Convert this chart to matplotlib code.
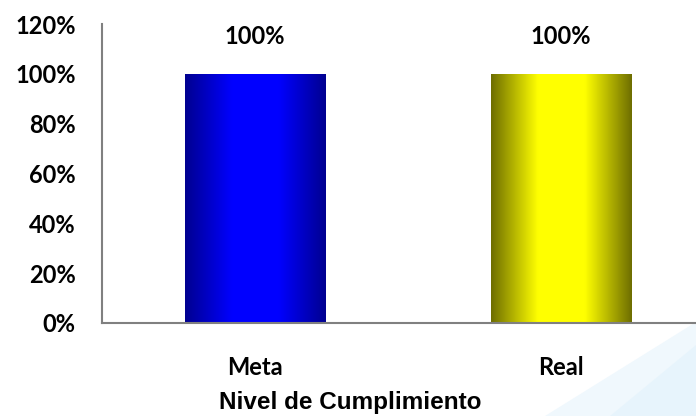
import numpy as np
import matplotlib.pyplot as plt
from matplotlib.patches import Polygon
from matplotlib.colors import LinearSegmentedColormap

categorias = ['Meta', 'Real']
valores = [100, 100]
etiquetas = ['100%', '100%']
yticks = [0, 20, 40, 60, 80, 100, 120]

fig = plt.figure(figsize=(6.96, 4.16), dpi=100)

# fondo: franja azul clara abajo a la derecha
bg = fig.add_axes([0, 0, 1, 1], zorder=0)
bg.set_xlim(0, 696)
bg.set_ylim(416, 0)
bg.axis('off')
bg.add_patch(Polygon([[545, 416], [696, 322], [696, 416]], closed=True,
                     facecolor='#f0f8fd', edgecolor='none'))
bg.add_patch(Polygon([[610, 416], [696, 345], [696, 416]], closed=True,
                     facecolor='#e4f3fc', edgecolor='none', alpha=0.7))

ax = fig.add_axes([102/696, (416-323)/416, 612/696, 299/416], zorder=1)
ax.patch.set_alpha(0)

# colores con degradado
cmaps = [
    LinearSegmentedColormap.from_list('azul', ['#000090', '#0000ff', '#0000ff', '#000090']),
    LinearSegmentedColormap.from_list('amarillo', ['#6e6e00', '#ffff00', '#ffff00', '#6e6e00']),
]

ancho = 0.46
x = np.arange(len(categorias))
bars = ax.bar(x, valores, width=ancho, color='none', edgecolor='none', zorder=2)
grad = np.linspace(0, 1, 256).reshape(1, -1)
for b, cm in zip(bars, cmaps):
    x0, y0 = b.get_x(), b.get_y()
    w, h = b.get_width(), b.get_height()
    im = ax.imshow(grad, cmap=cm, aspect='auto', extent=[x0, x0 + w, y0, y0 + h], zorder=2)
    im.set_clip_path(b)

fuente = dict(fontsize=17, fontweight='bold', family='Lato')

for xi, v, t in zip(x, valores, etiquetas):
    ax.text(xi, 115, t, ha='center', va='center', **fuente)

ax.set_xlim(-0.5, 1.5)
ax.set_ylim(0, 120)
ax.set_yticks(yticks)
ax.set_yticklabels([f'{t}%' for t in yticks], **fuente)
ax.set_xticks(x)
ax.set_xticklabels(categorias, **fuente)
ax.tick_params(axis='both', length=0)
ax.tick_params(axis='y', pad=19)
ax.tick_params(axis='x', pad=24)

for s in ['top', 'right']:
    ax.spines[s].set_visible(False)
for s in ['left', 'bottom']:
    ax.spines[s].set_color('#808080')
    ax.spines[s].set_linewidth(1.5)

fig.text(350/696, 1 - 403/416, 'Nivel de Cumplimiento', ha='center', va='center',
         fontsize=17.5, fontweight='bold', family='Liberation Sans')

plt.savefig('out.png', dpi=100)
